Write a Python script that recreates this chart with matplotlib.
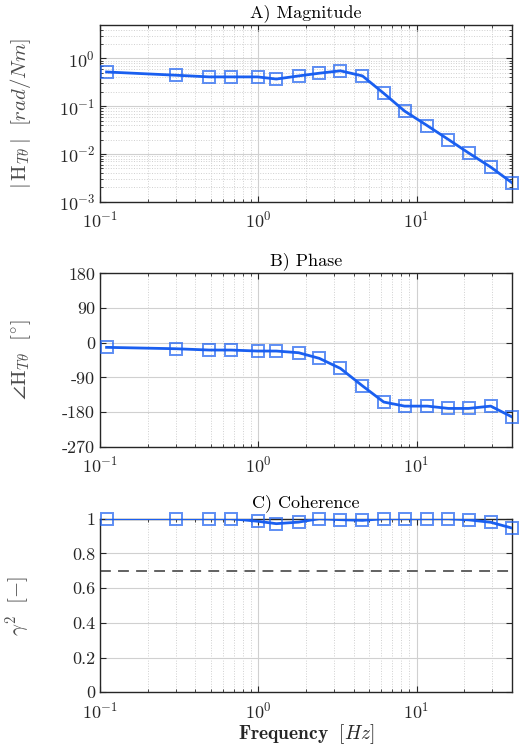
import numpy as np
import matplotlib.pyplot as plt
from matplotlib.ticker import LogLocator, NullFormatter

plt.rcParams["font.family"] = "serif"
plt.rcParams["font.serif"] = ["cmr10"]
plt.rcParams["mathtext.fontset"] = "cm"
plt.rcParams["axes.formatter.use_mathtext"] = True
plt.rcParams["axes.unicode_minus"] = False

freq = [0.11, 0.3, 0.49, 0.67, 0.99, 1.3, 1.8, 2.43, 3.3, 4.55, 6.2, 8.4, 11.7, 15.9, 21.3, 29.4, 40.0]
mag = [0.52, 0.445, 0.41, 0.41, 0.41, 0.37, 0.43, 0.49, 0.55, 0.43, 0.186, 0.079, 0.039, 0.020, 0.0105, 0.0053, 0.0025]
phase = [-12, -15.6, -19, -19, -21.6, -21.6, -26, -40.6, -66.6, -112, -154, -164.6, -164.6, -170.6, -170.6, -164.6, -192.5]
coh = [1.0, 1.0, 1.0, 1.0, 0.985, 0.971, 0.98, 1.0, 0.994, 0.99, 1.0, 1.0, 1.0, 1.0, 0.993, 0.979, 0.946]
coh_limit = 0.7
phase_ticks = [-270, -180, -90, 0, 90, 180]
coh_ticks = [0, 0.2, 0.4, 0.6, 0.8, 1]

blue = "#1a5ff0"
gray_txt = "#4d4d4d"

fig = plt.figure(figsize=(5.22, 7.47), dpi=100)
ax1 = fig.add_axes([0.1916, 0.730, 0.789, 0.2365])
ax2 = fig.add_axes([0.1916, 0.402, 0.789, 0.232])
ax3 = fig.add_axes([0.1916, 0.0732, 0.789, 0.2325])


def style(ax, logy=False):
    ax.set_xscale("log")
    ax.set_xlim(0.1, 40)
    ax.xaxis.set_major_locator(LogLocator(base=10, numticks=10))
    ax.xaxis.set_minor_locator(LogLocator(base=10, subs=np.arange(2, 10), numticks=10))
    ax.xaxis.set_minor_formatter(NullFormatter())
    ax.grid(True, which="major", color="#d0d0d0", lw=0.8)
    ax.grid(True, which="minor", axis="x", color="#d0d0d0", lw=0.7, ls=":")
    if logy:
        ax.grid(True, which="minor", axis="y", color="#d0d0d0", lw=0.7, ls=":")
    ax.set_axisbelow(True)
    ax.tick_params(which="both", direction="in", top=True, right=True,
                   colors="#262626", labelsize=13)
    ax.tick_params(which="major", length=4)
    ax.tick_params(which="minor", length=2)
    ax.tick_params(axis="x", pad=6)
    for s in ax.spines.values():
        s.set_color("#262626")
        s.set_linewidth(1.0)


def draw(ax, y):
    ax.plot(freq, y, color=blue, lw=2, zorder=3)
    ax.plot(freq, y, ls="none", marker="s", ms=8, mfc="none",
            mec=blue, mew=1.4, alpha=0.7, zorder=4, clip_on=False)


# A) Magnitude
draw(ax1, mag)
style(ax1, logy=True)
ax1.set_yscale("log")
ax1.set_ylim(1e-3, 5)
ax1.yaxis.set_major_locator(LogLocator(base=10, numticks=10))
ax1.yaxis.set_minor_locator(LogLocator(base=10, subs=np.arange(2, 10), numticks=10))
ax1.yaxis.set_minor_formatter(NullFormatter())
ax1.set_title("A) Magnitude", fontsize=13, pad=6)
ax1.set_ylabel(r"$|\,\mathrm{H}_{T\theta}\,|\ \ [rad/Nm]$", fontsize=15, color=gray_txt)

# B) Phase
draw(ax2, phase)
style(ax2)
ax2.set_ylim(-270, 180)
ax2.set_yticks(phase_ticks)
ax2.set_yticklabels([str(t) for t in phase_ticks])
ax2.set_title("B) Phase", fontsize=13, pad=6)
ax2.set_ylabel(r"$\angle\mathrm{H}_{T\theta}\ \ [^{\circ}]$", fontsize=15, color=gray_txt)

# C) Coherence
draw(ax3, coh)
style(ax3)
ax3.axhline(coh_limit, color="#555555", ls=(0, (6, 4)), lw=1.3, zorder=2)
ax3.set_ylim(0, 1)
ax3.set_yticks(coh_ticks)
ax3.set_yticklabels([f"{t:g}" for t in coh_ticks])
ax3.set_title("C) Coherence", fontsize=13, pad=8)
ax3.set_ylabel(r"$\gamma^2\ \ [-]$", fontsize=15, color=gray_txt)
ax3.set_xlabel(r"$\mathbf{Frequency}\ \ [Hz]$", fontsize=14, color="#262626", labelpad=1)

for ax in (ax1, ax2, ax3):
    ax.yaxis.set_label_coords(-0.163, 0.5)

fig.savefig("out.png", dpi=100)
